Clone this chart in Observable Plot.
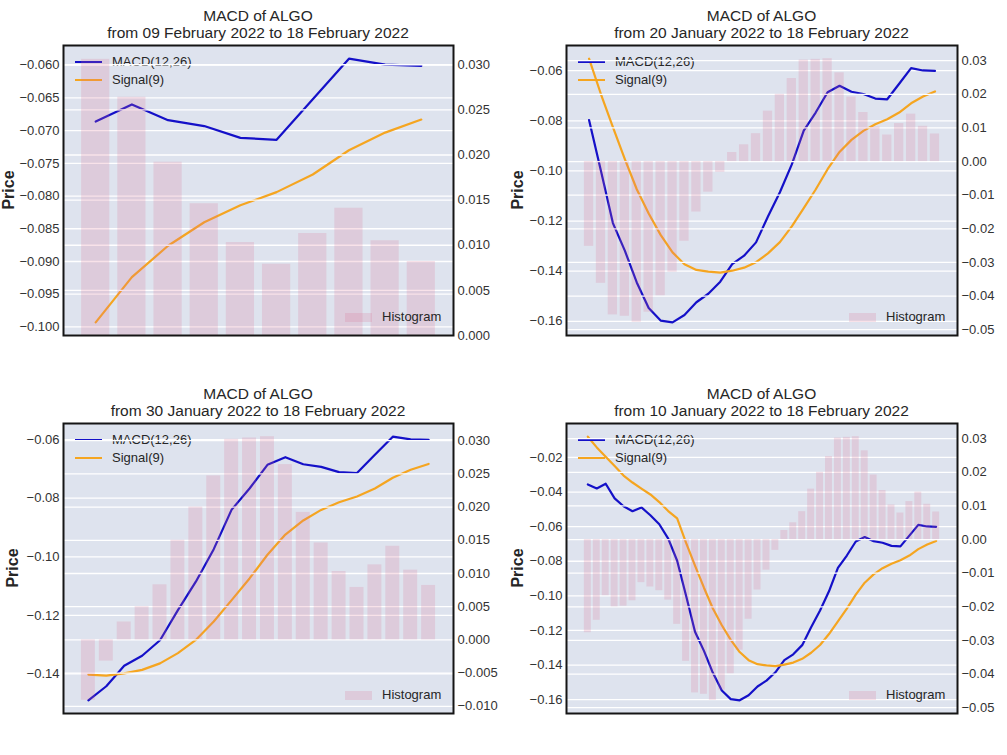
<!DOCTYPE html>
<html>
<head>
<meta charset="utf-8">
<script src="https://cdn.jsdelivr.net/npm/d3@7"></script>
<script src="https://cdn.jsdelivr.net/npm/@observablehq/plot@0.6"></script>
<style>
  body { margin: 0; background: #fff; font-family: "Liberation Sans", Arial, sans-serif; }
  #root { position: relative; width: 1007px; height: 755px; overflow: hidden; background: #fff; }
  .panel { position: absolute; }
  .panel svg { position: absolute; left: 0; top: 0; overflow: visible; }
  .title { position: absolute; text-align: center; font-size: 15.5px; line-height: 17px; color: #262626; white-space: nowrap; }
  .ylab { position: absolute; width: 80px; text-align: center; font-size: 16px; line-height: 14px; font-weight: bold; color: #262626; transform: rotate(-90deg); }
  .leg { position: absolute; font-size: 13px; line-height: 16px; color: #262626; white-space: nowrap; }
  .sw { position: absolute; }
</style>
</head>
<body>
<div id="root"></div>
<script>
// ---- Data (40 daily values, 10 Jan 2022 .. 18 Feb 2022) ----
const macd = [
  -0.0356, -0.0379, -0.0352, -0.0437, -0.0482, -0.0511, -0.0489, -0.0534, -0.0586, -0.0669,
  -0.0797, -0.1000, -0.1208, -0.1318, -0.1445, -0.1547, -0.1597, -0.1604, -0.1575, -0.1524,
  -0.1490, -0.1442, -0.1372, -0.1338, -0.1285, -0.1182, -0.1085, -0.0974, -0.0839, -0.0767,
  -0.0686, -0.0660, -0.0684, -0.0693, -0.0711, -0.0714, -0.0652, -0.0590, -0.0599, -0.0601
];
const signal = [
  -0.0080, -0.0142, -0.0196, -0.0250, -0.0305, -0.0345, -0.0380, -0.0414, -0.0458, -0.0510,
  -0.0552, -0.0694, -0.0825, -0.0953, -0.1073, -0.1170, -0.1255, -0.1325, -0.1372, -0.1395,
  -0.1402, -0.1406, -0.1398, -0.1386, -0.1364, -0.1329, -0.1284, -0.1221, -0.1148, -0.1074,
  -0.0993, -0.0924, -0.0876, -0.0840, -0.0814, -0.0794, -0.0767, -0.0730, -0.0703, -0.0683
];
const histogram = [
  -0.0277, -0.0240, -0.0167, -0.0200, -0.0198, -0.0182, -0.0128, -0.0141, -0.0152, -0.0180,
  -0.0252, -0.0362, -0.0456, -0.0460, -0.0478, -0.0448, -0.0399, -0.0329, -0.0237, -0.0150,
  -0.0091, -0.0032, 0.0027, 0.0050, 0.0083, 0.0150, 0.0200, 0.0247, 0.0302, 0.0304,
  0.0306, 0.0264, 0.0192, 0.0146, 0.0103, 0.0079, 0.0113, 0.0141, 0.0105, 0.0082
];

// ---- Panels ----
const panelStarts = ["09 February 2022", "20 January 2022", "30 January 2022", "10 January 2022"];
const panelEnd = "18 February 2022";
const windowLengths = [10, 30, 20, 40];

const leftTicks = [
  [-0.100, -0.095, -0.090, -0.085, -0.080, -0.075, -0.070, -0.065, -0.060],
  [-0.16, -0.14, -0.12, -0.10, -0.08, -0.06],
  [-0.14, -0.12, -0.10, -0.08, -0.06],
  [-0.16, -0.14, -0.12, -0.10, -0.08, -0.06, -0.04, -0.02]
];
const rightTicks = [
  [0, 0.005, 0.010, 0.015, 0.020, 0.025, 0.030],
  [-0.05, -0.04, -0.03, -0.02, -0.01, 0, 0.01, 0.02, 0.03],
  [-0.010, -0.005, 0, 0.005, 0.010, 0.015, 0.020, 0.025, 0.030],
  [-0.05, -0.04, -0.03, -0.02, -0.01, 0, 0.01, 0.02, 0.03]
];
const leftFormats = [".3f", ".2f", ".2f", ".2f"];
const rightFormats = [".3f", ".2f", ".3f", ".2f"];

const layout = [
  {left: 0,   top: 0,   width: 500, mL: 63, mR: 47, labX: 8.5},
  {left: 500, top: 0,   width: 507, mL: 66, mR: 50, labX: 17.5},
  {left: 0,   top: 378, width: 500, mL: 63, mR: 47, labX: 13.3},
  {left: 500, top: 378, width: 507, mL: 66, mR: 50, labX: 17.5}
];
const H = 345, mT = 45, mB = 10;
const BG = "#dee3ee", MACD_C = "#1410c8", SIG_C = "#f5a520", BAR_C = "palevioletred", BAR_OP = 0.2;

const root = document.getElementById("root");

layout.forEach((L, k) => {
  const n = windowLengths[k];
  const off = macd.length - n;
  const rows = d3.range(n).map(j => ({i: j, macd: macd[off + j], signal: signal[off + j], hist: histogram[off + j]}));

  const xpad = 0.05 * (n - 1 + 0.8);
  const xdom = [-0.4 - xpad, n - 1 + 0.4 + xpad];
  const ext = d3.extent(rows.flatMap(d => [d.macd, d.signal]));
  const lr = ext[1] - ext[0];
  const ldom = [ext[0] - 0.05 * lr, ext[1] + 0.05 * lr];
  const hlo = Math.min(0, d3.min(rows, d => d.hist)), hhi = Math.max(0, d3.max(rows, d => d.hist));
  const hr = hhi - hlo;
  const rdom = [hlo < 0 ? hlo - 0.05 * hr : 0, hhi > 0 ? hhi + 0.05 * hr : 0];

  const panel = document.createElement("div");
  panel.className = "panel";
  panel.style.left = L.left + "px";
  panel.style.top = L.top + "px";
  panel.style.width = L.width + "px";
  panel.style.height = H + "px";
  root.appendChild(panel);

  const common = {
    width: L.width, height: H,
    marginLeft: L.mL, marginRight: L.mR, marginTop: mT, marginBottom: mB,
    style: {background: "transparent", color: "#333", fontFamily: "Liberation Sans, Arial, sans-serif", fontSize: "13px", overflow: "visible"},
    x: {domain: xdom, axis: null}
  };

  // lower layer: MACD and signal on left axis
  const lower = Plot.plot({
    ...common,
    y: {domain: ldom, axis: null},
    marks: [
      Plot.frame({fill: BG, stroke: "none"}),
      Plot.gridY(leftTicks[k], {stroke: "#ffffff", strokeOpacity: 1, strokeWidth: 1.3}),
      Plot.lineY(rows, {x: "i", y: "macd", stroke: MACD_C, strokeWidth: 2.2}),
      Plot.lineY(rows, {x: "i", y: "signal", stroke: SIG_C, strokeWidth: 2.2}),
      Plot.axisY(leftTicks[k], {anchor: "left", tickSize: 0, tickPadding: 4, tickFormat: d3.format(leftFormats[k]), label: null, fontSize: 13})
    ]
  });
  panel.appendChild(lower);

  // line legend (drawn under the histogram layer)
  const fl = L.mL;
  const legItems = [["MACD(12,26)", MACD_C, 62], ["Signal(9)", SIG_C, 80]];
  legItems.forEach(([txt, col, y]) => {
    const sw = document.createElement("div");
    sw.className = "sw";
    sw.style.left = (fl + 12) + "px";
    sw.style.top = (y - 1) + "px";
    sw.style.width = "27px";
    sw.style.height = "2px";
    sw.style.background = col;
    panel.appendChild(sw);
    const t = document.createElement("div");
    t.className = "leg";
    t.style.left = (fl + 49) + "px";
    t.style.top = (y - 8) + "px";
    t.textContent = txt;
    panel.appendChild(t);
  });

  // upper layer: histogram on right axis
  const upper = Plot.plot({
    ...common,
    y: {domain: rdom, axis: null},
    marks: [
      Plot.gridY(rightTicks[k], {stroke: "#ffffff", strokeOpacity: 1, strokeWidth: 1.3}),
      Plot.rect(rows, {x1: d => d.i - 0.39, x2: d => d.i + 0.39, y1: d => 0, y2: "hist", fill: BAR_C, fillOpacity: BAR_OP}),
      Plot.axisY(rightTicks[k], {anchor: "right", tickSize: 0, tickPadding: 4, tickFormat: d3.format(rightFormats[k]), label: null, fontSize: 13}),
      Plot.frame({stroke: "#151515", strokeWidth: 2})
    ]
  });
  panel.appendChild(upper);

  // histogram legend
  const fr = L.width - L.mR;
  const hsw = document.createElement("div");
  hsw.className = "sw";
  hsw.style.left = (fr - 108) + "px";
  hsw.style.top = (mT + 290 - 18 - 4) + "px";
  hsw.style.width = "27px";
  hsw.style.height = "9px";
  hsw.style.background = BAR_C;
  hsw.style.opacity = BAR_OP;
  panel.appendChild(hsw);
  const ht = document.createElement("div");
  ht.className = "leg";
  ht.style.left = (fr - 71) + "px";
  ht.style.top = (mT + 290 - 18 - 8) + "px";
  ht.textContent = "Histogram";
  panel.appendChild(ht);

  // title
  const title = document.createElement("div");
  title.className = "title";
  const cx = (L.mL + fr) / 2;
  title.style.left = (cx - 200) + "px";
  title.style.width = "400px";
  title.style.top = "7px";
  title.innerHTML = "MACD of ALGO<br>from " + panelStarts[k] + " to " + panelEnd;
  panel.appendChild(title);

  // y label
  const yl = document.createElement("div");
  yl.className = "ylab";
  yl.style.left = (L.labX - 40) + "px";
  yl.style.top = (mT + 145 - 7) + "px";
  yl.textContent = "Price";
  panel.appendChild(yl);
});
</script>
</body>
</html>
